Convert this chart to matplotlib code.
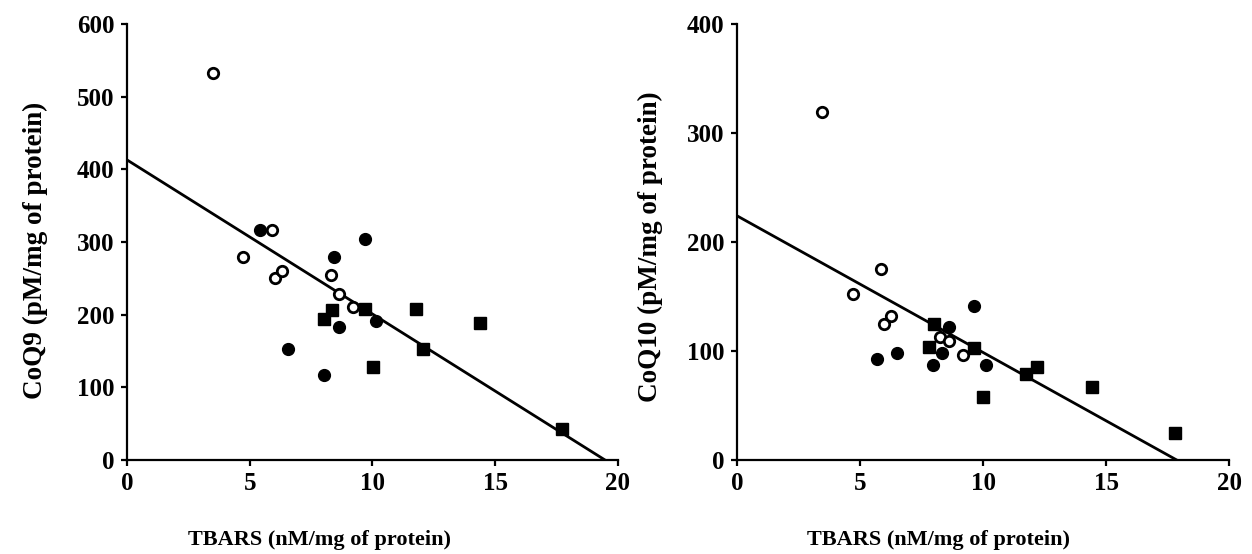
import numpy as np
import matplotlib
matplotlib.use("Agg")
import matplotlib.pyplot as plt

plt.rcParams['font.family'] = ['Liberation Serif', 'DejaVu Serif']
plt.rcParams['font.weight'] = 'bold'

# ---- CoQ9 panel ------------------------------------------------
q9_open_x = [3.52, 4.73, 5.89, 6.01, 6.30, 8.30, 8.64, 9.20]
q9_open_y = [533, 279, 316, 251, 260, 255, 229, 210]
q9_fill_x = [5.42, 6.54, 8.03, 8.42, 8.64, 9.70, 10.14]
q9_fill_y = [317, 153, 117, 279, 183, 304, 191]
q9_sq_x = [8.01, 8.34, 9.70, 10.03, 11.78, 12.04, 14.40, 17.73]
q9_sq_y = [194, 206, 208, 128, 208, 153, 188, 43]
q9_intercept, q9_xcross = 413, 19.47

# ---- CoQ10 panel -----------------------------------------------
q10_open_x = [3.47, 4.70, 5.84, 5.99, 6.25, 8.25, 8.62, 9.20]
q10_open_y = [319, 152, 175, 125, 132, 113, 109, 96]
q10_fill_x = [5.68, 6.49, 7.98, 8.35, 8.62, 9.63, 10.11]
q10_fill_y = [93, 98, 87, 98, 122, 141, 87]
q10_sq_x = [7.82, 8.01, 9.63, 10.01, 11.75, 12.18, 14.42, 17.80]
q10_sq_y = [104, 125, 103, 58, 79, 85, 67, 25]
q10_intercept, q10_xcross = 224, 17.87

XLABEL = 'TBARS (nM/mg of protein)'
FS_TICK = 18
FS_XL = 16
FS_YL = 19.5


def panel(ax, ox, oy, fx, fy, sx, sy, b, xc, ymax, ylabel, xl_pos, yl_pos):
    ax.plot([0, xc], [b, 0], color='black', lw=2, zorder=2)
    ax.plot(sx, sy, 's', color='black', ms=8.5, zorder=3, clip_on=False)
    ax.plot(fx, fy, 'o', color='black', ms=8.5, zorder=4, clip_on=False)
    ax.plot(ox, oy, 'o', mfc='white', mec='black', mew=2, ms=7.5, zorder=5,
            clip_on=False)
    ax.set_xlim(0, 20)
    ax.set_ylim(0, ymax)
    ax.set_xticks([0, 5, 10, 15, 20])
    ax.set_yticks(np.arange(0, ymax + 1, 100))
    for s in ['top', 'right']:
        ax.spines[s].set_visible(False)
    for s in ['left', 'bottom']:
        ax.spines[s].set_linewidth(1.6)
    ax.tick_params(direction='out', length=4, width=1.6, labelsize=FS_TICK, pad=5)
    ax.set_xlabel(XLABEL, fontsize=FS_XL, fontweight='bold')
    ax.set_ylabel(ylabel, fontsize=FS_YL, fontweight='bold')
    ax.xaxis.set_label_coords(*xl_pos)
    ax.yaxis.set_label_coords(*yl_pos)


fig = plt.figure(figsize=(12.52, 5.54), dpi=100)
ax1 = fig.add_axes([0.1014, 0.1697, 0.3922, 0.787])
ax2 = fig.add_axes([0.5887, 0.1697, 0.393, 0.787])

panel(ax1, q9_open_x, q9_open_y, q9_fill_x, q9_fill_y, q9_sq_x, q9_sq_y,
      q9_intercept, q9_xcross, 600, 'CoQ9 (pM/mg of protein)',
      (0.393, -0.16), (-0.16, 0.48))
panel(ax2, q10_open_x, q10_open_y, q10_fill_x, q10_fill_y, q10_sq_x, q10_sq_y,
      q10_intercept, q10_xcross, 400, 'CoQ10 (pM/mg of protein)',
      (0.409, -0.16), (-0.15, 0.49))

fig.savefig('out.png', dpi=100)
